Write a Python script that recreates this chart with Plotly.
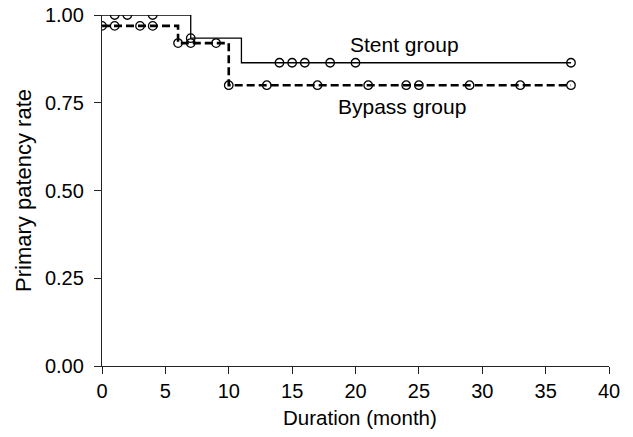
import plotly.graph_objects as go

# Kaplan-Meier step data
stent_times = [0, 7, 11, 37]
stent_surv = [1.00, 0.934, 0.864, 0.864]
stent_censor = [1, 2, 4, 7, 14, 15, 16, 18, 20, 37]

bypass_times = [0, 6, 10, 37]
bypass_surv = [0.969, 0.920, 0.800, 0.800]
bypass_censor = [0, 1, 3, 4, 6, 7, 9, 10, 13, 17, 21, 24, 25, 29, 33, 37]

x_ticks = [0, 5, 10, 15, 20, 25, 30, 35, 40]
y_ticks = [0, 0.25, 0.5, 0.75, 1.0]


def step_value(times, surv, t):
    v = surv[0]
    for ti, si in zip(times, surv):
        if t >= ti:
            v = si
    return v


FONT = "Liberation Sans, Arial, Helvetica, sans-serif"
fig = go.Figure()

fig.add_trace(go.Scatter(x=stent_times, y=stent_surv, mode="lines",
                         line=dict(shape="hv", color="black", width=1.3),
                         showlegend=False, hoverinfo="skip"))
fig.add_trace(go.Scatter(x=bypass_times, y=bypass_surv, mode="lines",
                         line=dict(shape="hv", color="black", width=2.6, dash="8px,4px"),
                         showlegend=False, hoverinfo="skip"))
fig.add_trace(go.Scatter(x=stent_censor,
                         y=[step_value(stent_times, stent_surv, t) for t in stent_censor],
                         mode="markers",
                         marker=dict(symbol="circle-open", size=8.5, color="black",
                                     line=dict(width=1.3, color="black")),
                         showlegend=False))
fig.add_trace(go.Scatter(x=bypass_censor,
                         y=[step_value(bypass_times, bypass_surv, t) for t in bypass_censor],
                         mode="markers",
                         marker=dict(symbol="circle-open", size=8.5, color="black",
                                     line=dict(width=1.3, color="black")),
                         showlegend=False))

fig.add_annotation(x=23.9, y=0.916, text="Stent group", showarrow=False,
                   font=dict(family=FONT, size=21, color="black"),
                   xanchor="center", yanchor="middle")
fig.add_annotation(x=23.7, y=0.740, text="Bypass group", showarrow=False,
                   font=dict(family=FONT, size=21, color="black"),
                   xanchor="center", yanchor="middle")
# x-axis title
fig.add_annotation(x=0.509, y=-0.146, xref="paper", yref="paper",
                   text="Duration (month)", showarrow=False,
                   font=dict(family=FONT, size=20.5, color="black"),
                   xanchor="center", yanchor="middle")

fig.update_layout(
    width=633, height=437,
    margin=dict(l=102, r=24, t=15, b=71, autoexpand=False),
    paper_bgcolor="white", plot_bgcolor="white",
    font=dict(family=FONT, size=20, color="black"),
)
fig.update_xaxes(range=[0, 40], tickvals=x_ticks, ticks="outside", ticklen=7,
                 tickwidth=1.3, tickcolor="#222", showline=True, linecolor="#222",
                 linewidth=1.3, showgrid=False, zeroline=False, automargin=False,
                 tickfont=dict(family=FONT, size=20), ticklabelstandoff=0)
fig.update_yaxes(range=[0, 1.0], tickvals=y_ticks, tickformat=".2f", ticks="outside",
                 ticklen=7, tickwidth=1.3, tickcolor="#222", showline=True,
                 linecolor="#222", linewidth=1.3, showgrid=False, zeroline=False,
                 automargin=False, tickfont=dict(family=FONT, size=20),
                 ticklabelstandoff=6,
                 title=dict(text="Primary patency rate", standoff=7,
                            font=dict(family=FONT, size=22)))

fig.write_html("out.html", config={"displayModeBar": False},
               post_script="document.body.style.margin='0';document.body.style.overflow='hidden';")
